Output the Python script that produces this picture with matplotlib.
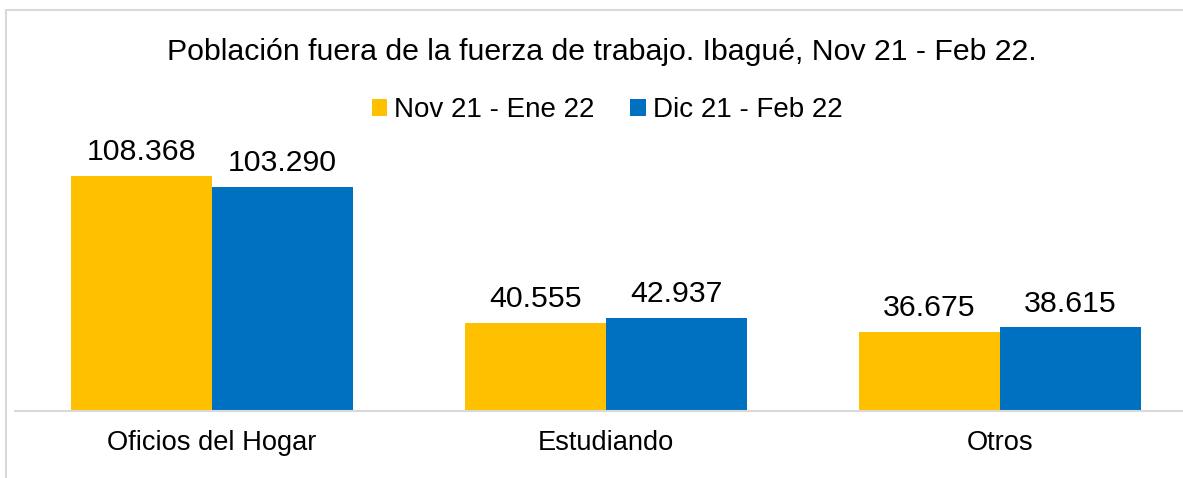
import matplotlib.pyplot as plt
import matplotlib.patches as mpatches
import numpy as np

plt.rcParams['font.family'] = ['Liberation Sans', 'DejaVu Sans']

categories = ['Oficios del Hogar', 'Estudiando', 'Otros']
series_names = ['Nov 21 - Ene 22', 'Dic 21 - Feb 22']
nov_ene = [108368, 40555, 36675]
dic_feb = [103290, 42937, 38615]
labels_nov = ['108.368', '40.555', '36.675']
labels_dic = ['103.290', '42.937', '38.615']
title = 'Población fuera de la fuerza de trabajo. Ibagué, Nov 21 - Feb 22.'

colors = ['#FFC000', '#0070C0']
W, H = 1183, 478
fig = plt.figure(figsize=(W / 100, H / 100), dpi=100)

# outer chart frame (cropped on the right and bottom)
fig.patches.append(mpatches.Rectangle((6 / W, -0.1), 1.2, 1 - 10 / H + 0.1,
                                      transform=fig.transFigure, fill=False,
                                      edgecolor='#D9D9D9', lw=1.5))

ax = fig.add_axes([15 / W, (H - 411) / H, (1197 - 15) / W, (411 - 151) / H])
x = np.arange(len(categories))
bw = 0.358
b1 = ax.bar(x - bw / 2, nov_ene, bw, color=colors[0], label=series_names[0])
b2 = ax.bar(x + bw / 2, dic_feb, bw, color=colors[1], label=series_names[1])

for bars, labs in ((b1, labels_nov), (b2, labels_dic)):
    for b, t in zip(bars, labs):
        ax.annotate(t, (b.get_x() + b.get_width() / 2, b.get_height()),
                    xytext=(0, 7), textcoords='offset points',
                    ha='center', va='bottom', fontsize=21.8)

ax.set_xlim(-0.5, 2.5)
ax.set_ylim(0, 120000)
ax.set_xticks(x)
ax.set_xticklabels(categories, fontsize=19.6)
ax.tick_params(axis='x', length=0, pad=14)
ax.set_yticks([])
for s in ['top', 'right', 'left']:
    ax.spines[s].set_visible(False)
ax.spines['bottom'].set_color('#D9D9D9')
ax.spines['bottom'].set_linewidth(1.5)

fig.text(602 / W, 1 - 52 / H, title, ha='center', va='center', fontsize=21.8)

fig.legend(handles=[b1, b2], loc='center', bbox_to_anchor=(607 / W, 1 - 110 / H),
           ncol=2, frameon=False, fontsize=20, handlelength=0.55, handleheight=0.55,
           handletextpad=0.25, columnspacing=1.3)

fig.savefig('out.png', dpi=100)
